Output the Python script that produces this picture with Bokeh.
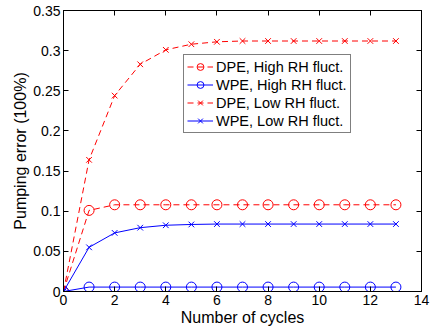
from bokeh.plotting import figure
from bokeh.models import LinearAxis, FixedTicker, Range1d, Legend, LegendItem
from bokeh.embed import file_html
from bokeh.resources import INLINE

cycles = list(range(14))
dpe_high = [0.0, 0.101, 0.108, 0.108, 0.108, 0.108, 0.108, 0.108, 0.108, 0.108, 0.108, 0.108, 0.108, 0.108]
wpe_high = [0.0, 0.0055, 0.0055, 0.0055, 0.0055, 0.0055, 0.0055, 0.0055, 0.0055, 0.0055, 0.0055, 0.0055, 0.0055, 0.0055]
dpe_low = [0.0, 0.164, 0.244, 0.283, 0.301, 0.308, 0.311, 0.312, 0.312, 0.312, 0.312, 0.312, 0.312, 0.312]
wpe_low = [0.0, 0.055, 0.073, 0.0795, 0.0825, 0.0835, 0.084, 0.084, 0.084, 0.084, 0.084, 0.084, 0.084, 0.084]

x_ticks = [0, 2, 4, 6, 8, 10, 12, 14]
x_labels = ["0", "2", "4", "6", "8", "10", "12", "14"]
y_ticks = [0, 0.05, 0.1, 0.15, 0.2, 0.25, 0.3, 0.35]
y_labels = ["0", "0.05", "0.1", "0.15", "0.2", "0.25", "0.3", "0.35"]

FONT = "Liberation Sans"
RED = "#ff0000"
BLUE = "#0000ff"

p = figure(frame_width=358, frame_height=281, output_backend="svg", toolbar_location=None,
           x_range=Range1d(0, 14), y_range=Range1d(0, 0.35),
           min_border_left=63, min_border_right=10, min_border_top=10, min_border_bottom=41,
           x_axis_label="Number of cycles", y_axis_label="Pumping error (100%)")
p.background_fill_color = "white"
p.border_fill_color = "white"
p.outline_line_color = "black"
p.outline_line_width = 1
p.grid.visible = False

for ax, ticks, labels in ((p.xaxis[0], x_ticks, x_labels), (p.yaxis[0], y_ticks, y_labels)):
    ax.ticker = FixedTicker(ticks=ticks)
    ax.major_label_overrides = {t: l for t, l in zip(ticks, labels)}
    ax.major_tick_in = 5
    ax.major_tick_out = 0
    ax.minor_tick_line_color = None
    ax.axis_line_color = "black"
    ax.major_label_text_font = FONT
    ax.major_label_text_font_size = "14px"
    ax.major_label_text_color = "black"
    ax.axis_label_text_font = FONT
    ax.axis_label_text_font_size = "16px"
    ax.axis_label_text_font_style = "normal"
    ax.axis_label_text_color = "black"
    ax.major_label_standoff = 3
    ax.axis_label_standoff = 1

for loc, ticks in (("above", x_ticks), ("right", y_ticks)):
    ax = LinearAxis(ticker=FixedTicker(ticks=ticks), major_tick_in=5, major_tick_out=0,
                    minor_tick_line_color=None,
                    major_label_overrides={t: "" for t in ticks},
                    major_label_standoff=0, axis_line_color="black")
    p.add_layout(ax, loc)

l1 = p.line(cycles, dpe_high, line_color=RED, line_dash="6 4", line_width=1)
s1 = p.scatter(cycles, dpe_high, marker="circle", size=10, fill_color=None, line_color=RED, line_width=1)
l2 = p.line(cycles, wpe_high, line_color=BLUE, line_width=1)
s2 = p.scatter(cycles, wpe_high, marker="circle", size=10, fill_color=None, line_color=BLUE, line_width=1)
l3 = p.line(cycles, dpe_low, line_color=RED, line_dash="6 4", line_width=1)
s3 = p.scatter(cycles, dpe_low, marker="x", size=8, line_color=RED, line_width=1)
l4 = p.line(cycles, wpe_low, line_color=BLUE, line_width=1)
s4 = p.scatter(cycles, wpe_low, marker="x", size=8, line_color=BLUE, line_width=1)

legend = Legend(items=[
    LegendItem(label="DPE, High RH fluct.", renderers=[l1, s1]),
    LegendItem(label="WPE, High RH fluct.", renderers=[l2, s2]),
    LegendItem(label="DPE, Low RH fluct.", renderers=[l3, s3]),
    LegendItem(label="WPE, Low RH fluct.", renderers=[l4, s4]),
], location=(120, 158))
legend.label_text_font = FONT
legend.label_text_font_size = "14.5px"
legend.label_text_color = "black"
legend.border_line_color = "black"
legend.border_line_width = 1
legend.background_fill_alpha = 1
legend.glyph_width = 26
legend.glyph_height = 17
legend.label_height = 17
legend.spacing = 1
legend.padding = 3
legend.margin = 0
legend.label_standoff = 3
p.add_layout(legend, "center")

open("out.html", "w").write(file_html(p, INLINE))
